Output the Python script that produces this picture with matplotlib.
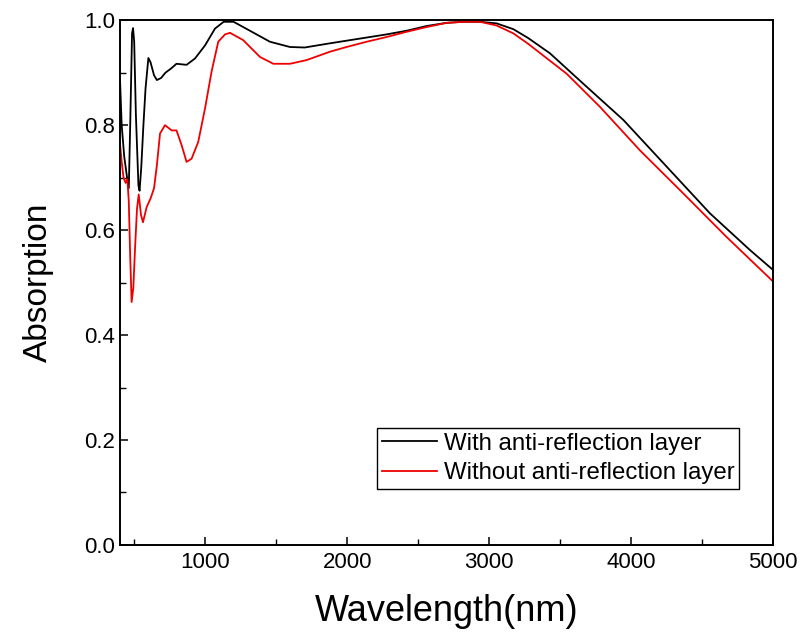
import matplotlib
matplotlib.use("Agg")
import matplotlib.pyplot as plt
from matplotlib.ticker import MultipleLocator

plt.rcParams['font.family'] = ['Liberation Sans', 'DejaVu Sans']

# wavelength (nm) and absorption
wl_with = [400, 412, 430, 450, 462, 472, 485, 492, 500, 512, 530, 538, 550, 565, 580,
           600, 615, 640, 660, 690, 720, 760, 798, 869, 928, 999, 1069, 1130, 1200,
           1315, 1456, 1597, 1700, 1879, 1996, 2137, 2278, 2419, 2560, 2700, 2818,
           2935, 3052, 3170, 3275, 3428, 3663, 3945, 4250, 4555, 4837, 5000]
abs_with = [0.889, 0.80, 0.74, 0.70, 0.68, 0.80, 0.975, 0.985, 0.96, 0.82, 0.685, 0.675,
            0.72, 0.80, 0.87, 0.928, 0.92, 0.895, 0.886, 0.89, 0.90, 0.908, 0.917, 0.915,
            0.927, 0.952, 0.984, 0.997, 0.997, 0.98, 0.959, 0.949, 0.948, 0.956, 0.961,
            0.967, 0.973, 0.98, 0.989, 0.995, 0.997, 0.997, 0.994, 0.983, 0.966, 0.937,
            0.879, 0.81, 0.721, 0.632, 0.562, 0.524]

wl_without = [400, 412, 425, 440, 452, 462, 472, 482, 494, 506, 520, 532, 548, 562, 588,
              615, 640, 660, 682, 717, 764, 798, 834, 869, 904, 951, 999, 1045, 1092,
              1140, 1175, 1268, 1386, 1480, 1597, 1714, 1879, 1996, 2137, 2278, 2419,
              2560, 2700, 2818, 2935, 3052, 3170, 3275, 3546, 3780, 4062, 4367, 4672, 5000]
abs_without = [0.765, 0.73, 0.70, 0.69, 0.697, 0.655, 0.55, 0.463, 0.49, 0.565, 0.641,
               0.668, 0.629, 0.615, 0.644, 0.66, 0.68, 0.724, 0.784, 0.80, 0.79, 0.79,
               0.762, 0.73, 0.736, 0.768, 0.832, 0.902, 0.959, 0.973, 0.976, 0.962,
               0.93, 0.917, 0.917, 0.924, 0.94, 0.949, 0.959, 0.968, 0.978, 0.987,
               0.995, 0.997, 0.997, 0.99, 0.975, 0.955, 0.898, 0.835, 0.752, 0.67,
               0.587, 0.502]

fig = plt.figure(figsize=(8.02, 6.32), dpi=100)
ax = fig.add_axes([0.1496, 0.1377, 0.8144, 0.8303])

ax.plot(wl_with, abs_with, color='black', lw=1.3, label='With anti-reflection layer')
ax.plot(wl_without, abs_without, color='#ee0000', lw=1.3, label='Without anti-reflection layer')

ax.set_xlim(400, 5000)
ax.set_ylim(0, 1.0)
ax.xaxis.set_major_locator(MultipleLocator(1000))
ax.xaxis.set_minor_locator(MultipleLocator(500))
ax.yaxis.set_major_locator(MultipleLocator(0.2))
ax.yaxis.set_minor_locator(MultipleLocator(0.1))
ax.set_xticks([1000, 2000, 3000, 4000, 5000])
ax.tick_params(which='both', direction='in', top=False, right=False, labelsize=16)
ax.tick_params(axis='x', pad=5)
ax.tick_params(which='major', length=6, width=1.1)
ax.tick_params(which='minor', length=4, width=1.0)
for s in ax.spines.values():
    s.set_linewidth(1.4)

ax.set_xlabel('Wavelength(nm)', fontsize=26, labelpad=15)
ax.set_ylabel('Absorption', fontsize=24, labelpad=22)

leg = ax.legend(loc='lower right', bbox_to_anchor=(0.948, 0.107), fontsize=17.3,
                frameon=True, fancybox=False, edgecolor='black', framealpha=1,
                handlelength=2.3, handletextpad=0.28, borderpad=0.2, labelspacing=0.3,
                borderaxespad=0)
leg.get_frame().set_linewidth(1.0)

fig.savefig('out.png', dpi=100)
